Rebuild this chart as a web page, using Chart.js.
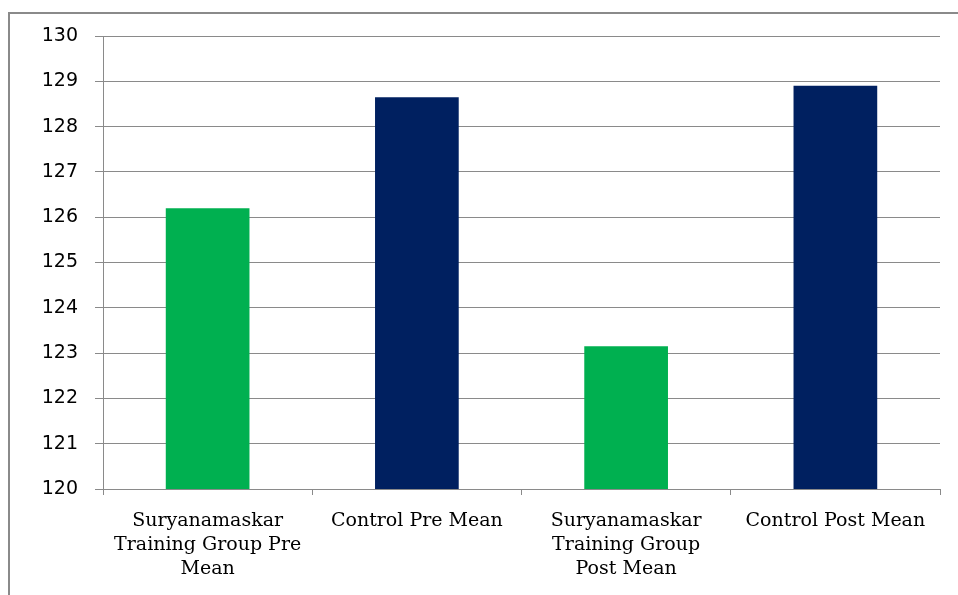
<!DOCTYPE html>
<html>
<head>
<meta charset="utf-8">
<script src="https://cdn.jsdelivr.net/npm/chart.js@4/dist/chart.umd.min.js"></script>
<style>
  html, body { margin: 0; padding: 0; background: #fff; }
  #wrap { position: relative; width: 958px; height: 595px; overflow: hidden; }
  /* outer frame of the chart object */
  #frame {
    position: absolute; left: 8px; top: 12px; width: 960px; height: 600px;
    border-left: 2px solid #8a8a8a; border-top: 2px solid #8a8a8a;
  }
  #myChart { position: absolute; left: 0; top: 0; }
</style>
</head>
<body>
<div id="wrap">
  <div id="frame"></div>
  <canvas id="myChart" width="958" height="595"></canvas>
</div>
<script>
/* bar chart */
const groups = [
  ["Suryanamaskar", "Training Group Pre", "Mean"],
  "Control Pre Mean",
  ["Suryanamaskar", "Training Group", "Post Mean"],
  "Control Post Mean",
];
const means = [126.2, 128.65, 123.15, 128.9];

const greenColor = "#00b050";
const navyColor = "#002060";
const gridColor = "#8a8a8a";

let ctx = document.getElementById("myChart");

let data = {
  labels: groups,
  datasets: [
    {
      data: means,
      backgroundColor: [greenColor, navyColor, greenColor, navyColor],
      borderWidth: 0,
      categoryPercentage: 1,
      barPercentage: 0.4,
    },
  ],
};

let barChart = new Chart(ctx, {
  type: "bar",
  data: data,
  options: {
    responsive: false,
    animation: false,
    layout: { padding: { top: 36, right: 18, left: 0, bottom: 0 } },
    plugins: {
      legend: { display: false },
      tooltip: { enabled: false },
    },
    scales: {
      x: {
        grid: {
          offset: true,
          drawOnChartArea: false,
          tickLength: 6,
          color: gridColor,
        },
        border: { color: gridColor },
        ticks: {
          color: "#000",
          padding: 14,
          maxRotation: 0,
          autoSkip: false,
          font: { family: "DejaVu Serif", size: 19, lineHeight: 1.27 },
        },
        afterFit: (scale) => {
          scale.height = 106;
        },
      },
      y: {
        min: 120,
        max: 130,
        ticks: {
          stepSize: 1,
          color: "#000",
          padding: 17,
          font: { family: "DejaVu Sans", size: 19 },
        },
        grid: { color: gridColor, tickLength: 8 },
        border: { color: gridColor },
        afterFit: (scale) => {
          scale.width = 103;
        },
      },
    },
  },
});
</script>
</body>
</html>
